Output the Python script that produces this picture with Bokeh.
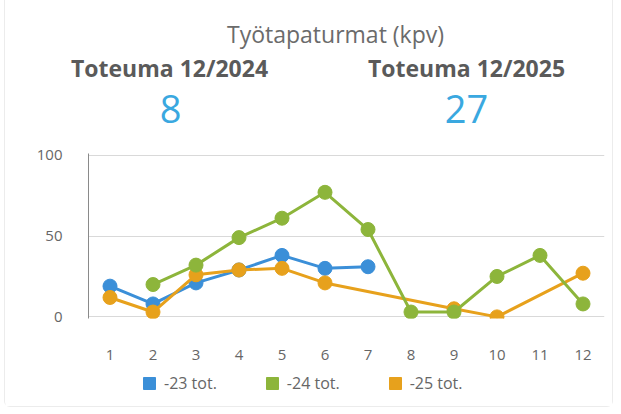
from bokeh.plotting import figure
from bokeh.models import Legend, LegendItem, FixedTicker, Range1d
from bokeh.layouts import column, row
from bokeh.core.properties import value
from bokeh.embed import file_html
from bokeh.resources import INLINE

# ---- data ----
months = list(range(1, 13))
month_labels = [str(m) for m in months]

s23_x = [1, 2, 3, 4, 5, 6, 7]
s23_y = [19, 8, 21, 29, 38, 30, 31]

s24_x = [2, 3, 4, 5, 6, 7, 8, 9, 10, 11, 12]
s24_y = [20, 32, 49, 61, 77, 54, 3, 3, 25, 38, 8]

s25_x = [1, 2, 3, 4, 5, 6, 9, 10, 12]
s25_y = [12, 3, 26, 29, 30, 21, 5, 0, 27]

series_names = ["-23 tot.", "-24 tot.", "-25 tot."]
colors = ["#3b8fd8", "#8db53b", "#e7a11c"]

title_text = "Työtapaturmat (kpv)"
kpi_labels = ["Toteuma 12/2024", "Toteuma 12/2025"]
kpi_values = ["8", "27"]

FONT = "Open Sans"
W = 607

def blank(height):
    f = figure(width=W, height=height, output_backend="svg", toolbar_location=None,
               x_range=Range1d(5, 5 + W), y_range=Range1d(height, 0),
               min_border=0, x_axis_type=None, y_axis_type=None)
    f.outline_line_color = None
    f.xgrid.grid_line_color = None
    f.ygrid.grid_line_color = None
    return f

# ---- header (title and KPI figures) ----
h = blank(138)
h.text(x=[335], y=[33], text=[title_text], text_align="center",
       text_baseline="middle", text_font=value(FONT), text_font_size="23px",
       text_color="#6b6b6b")
h.text(x=[169, 466], y=[67, 67], text=kpi_labels, text_align="center",
       text_baseline="middle", text_font=value(FONT), text_font_size="23px",
       text_font_style="bold", text_color="#5a5a5a")
h.text(x=[170, 466], y=[108, 108], text=kpi_values, text_align="center",
       text_baseline="middle", text_font=value(FONT), text_font_size="38px",
       text_color="#3aa8e0")

# ---- chart ----
p = figure(width=W, height=226, output_backend="svg", toolbar_location=None,
           x_range=Range1d(0.5, 12.5), y_range=Range1d(-1, 101),
           min_border_left=83, min_border_right=8, min_border_top=15,
           min_border_bottom=46)
p.outline_line_color = None

p.xaxis.ticker = FixedTicker(ticks=months)
p.xaxis.major_label_overrides = {m: l for m, l in zip(months, month_labels)}
p.xaxis.axis_line_color = None
p.xaxis.major_tick_line_color = None
p.xaxis.minor_tick_line_color = None
p.xaxis.major_label_standoff = 25
p.xaxis.major_label_text_font = FONT
p.xaxis.major_label_text_font_size = "15px"
p.xaxis.major_label_text_color = "#666666"

p.yaxis.ticker = FixedTicker(ticks=[0, 50, 100])
p.yaxis.axis_line_color = "#8a8a8a"
p.yaxis.major_tick_line_color = None
p.yaxis.minor_tick_line_color = None
p.yaxis.major_label_standoff = 20
p.yaxis.major_label_text_font = FONT
p.yaxis.major_label_text_font_size = "15px"
p.yaxis.major_label_text_color = "#666666"

p.xgrid.grid_line_color = None
p.ygrid.grid_line_color = "#d9d9d9"

data = [(s23_x, s23_y, colors[0]), (s25_x, s25_y, colors[2]), (s24_x, s24_y, colors[1])]
for xs, ys, c in data:
    p.line(xs, ys, line_color=c, line_width=3)
    p.scatter(xs, ys, marker="circle", size=14, fill_color=c, line_color=c)

# ---- legend strip (square swatches; the proxy glyphs have size 0) ----
lg = blank(42)
items = []
for (xs, ys), name, c in zip([(s23_x, s23_y), (s24_x, s24_y), (s25_x, s25_y)],
                             series_names, colors):
    r = lg.scatter(x=xs[:1], y=ys[:1], marker="square", size=0, fill_color=c,
                   line_color=c)
    items.append(LegendItem(label=name, renderers=[r]))
legend = Legend(items=items, orientation="horizontal", location=(129, 8),
                border_line_color=None, background_fill_alpha=0,
                label_text_font=FONT, label_text_font_size="16px",
                label_text_color="#666666", spacing=40, glyph_width=30,
                glyph_height=30, label_standoff=0, padding=0, margin=0)
lg.add_layout(legend, "center")

layout = column(row(h), p, row(lg), spacing=0)
layout.styles = {"margin-left": "4px", "border": "1px solid #ececec",
                 "border-top": "none", "border-radius": "0 0 6px 6px"}

open("out.html", "w").write(file_html(layout, INLINE))
